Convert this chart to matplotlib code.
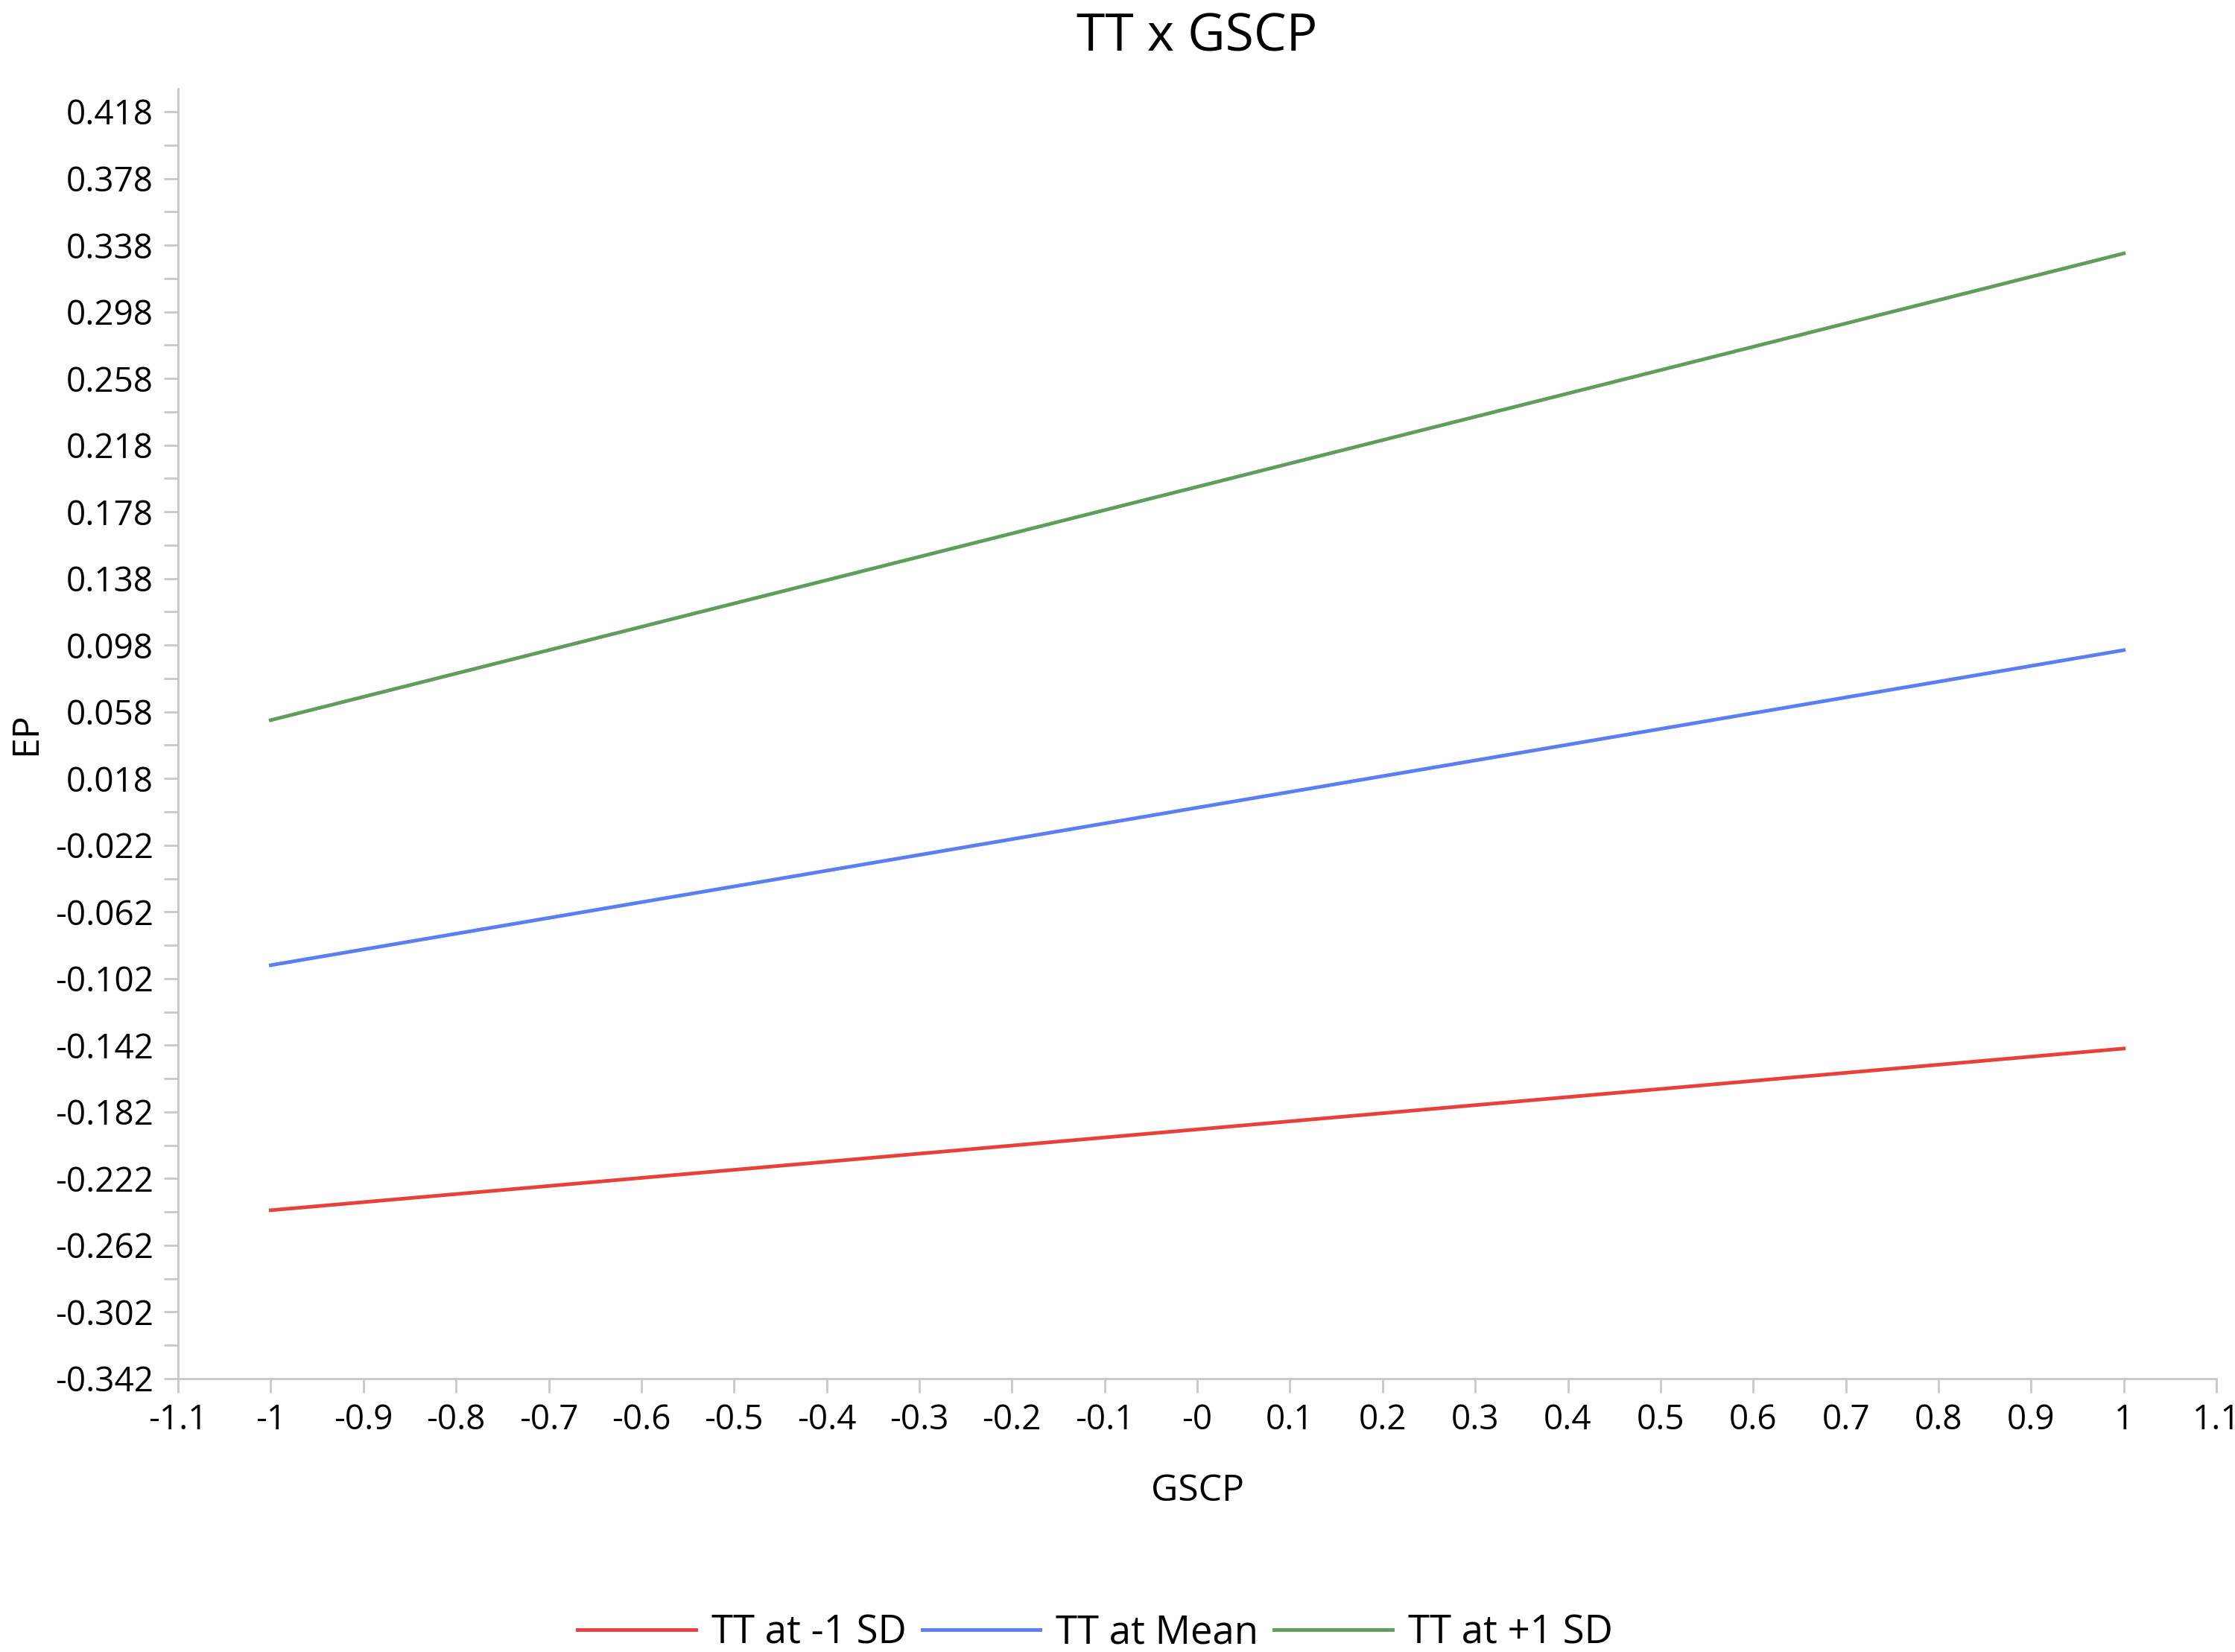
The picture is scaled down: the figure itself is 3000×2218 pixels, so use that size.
import matplotlib
matplotlib.use("Agg")
import matplotlib.pyplot as plt
import numpy as np

plt.rcParams['font.family'] = ['Open Sans', 'DejaVu Sans']

gscp = [-1, 1]
series_names = ["TT at -1 SD", "TT at Mean", "TT at +1 SD"]
low_sd = [-0.241, -0.144]
mean_tt = [-0.094, 0.095]
high_sd = [0.053, 0.333]
colors = ["#e8413c", "#5b7ff0", "#5e9e5a"]

fig = plt.figure(figsize=(30, 22.18), dpi=100)
ax = fig.add_axes([0.0797, 0.1655, 0.912, 0.781])

for vals, c, n in zip([low_sd, mean_tt, high_sd], colors, series_names):
    ax.plot(gscp, vals, color=c, lw=3.5, label=n)

ax.set_xlim(-1.1, 1.1)
ax.set_ylim(-0.342, 0.432)
xt = np.round(np.arange(-1.1, 1.1001, 0.1), 1)
ax.set_xticks(xt)
ax.set_xticklabels(["-0" if abs(v) < 1e-9 else ("%g" % v) for v in xt])
yt = np.round(np.arange(-0.342, 0.4181, 0.04), 3)
ax.set_yticks(yt)
ax.set_yticklabels(["%g" % v for v in yt])
ax.set_yticks(np.round(np.arange(-0.322, 0.43, 0.04), 3), minor=True)

for s in ['top', 'right']:
    ax.spines[s].set_visible(False)
for s in ['left', 'bottom']:
    ax.spines[s].set_color('#c8c8c8')
    ax.spines[s].set_linewidth(2)
ax.tick_params(axis='both', which='major', length=14, width=2, color='#c8c8c8', labelsize=33, pad=10)
ax.tick_params(axis='y', which='minor', length=14, width=2, color='#c8c8c8')

ax.set_xlabel("GSCP", fontsize=36, labelpad=34)
ax.set_ylabel("EP", fontsize=36, labelpad=10)
ax.set_title("TT x GSCP", fontsize=50, pad=36)

fig.legend(loc='lower center', ncol=3, frameon=False, fontsize=38,
           handlelength=3.0, columnspacing=0.4, handletextpad=0.4,
           bbox_to_anchor=(0.49, -0.022))

fig.savefig("out.png", dpi=100, facecolor='white')
